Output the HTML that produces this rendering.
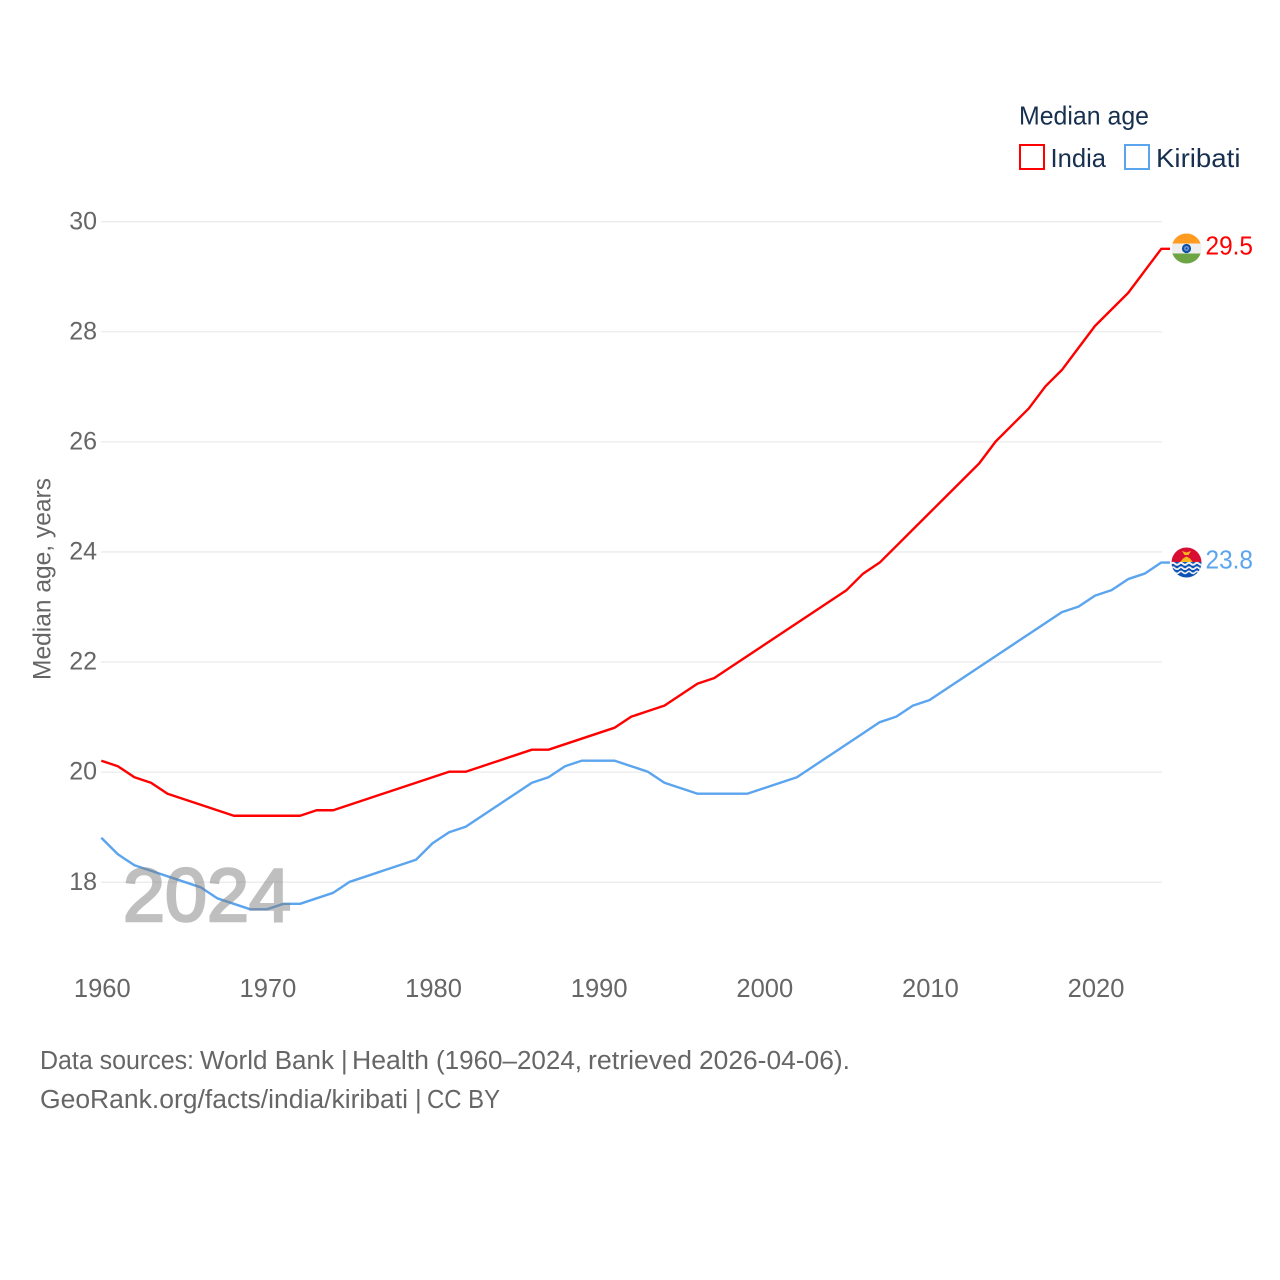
<!DOCTYPE html>
<html lang="en">
<head>
<meta charset="utf-8">
<title>Median age: India and Kiribati</title>
<style>
html,body{margin:0;padding:0;background:#fff;}
svg{display:block;}
text{font-family:"Liberation Sans",sans-serif;}
</style>
</head>
<body>
<svg id="chart" xmlns="http://www.w3.org/2000/svg" width="1280" height="1280" viewBox="0 0 1280 1280">
  <rect width="1280" height="1280" fill="#ffffff"/>
  <g id="grid"></g>
  <g id="yticks"></g>
  <g id="xticks"></g>
  <text transform="translate(50.5,680) rotate(-90)" font-size="25" fill="#666666" textLength="202" lengthAdjust="spacingAndGlyphs">Median age, years</text>
  <g id="series"></g>
  <text x="123" y="921" font-size="75" fill="#808080" stroke="#808080" stroke-width="2.6" opacity="0.5" textLength="168" lengthAdjust="spacingAndGlyphs">2024</text>

  <g>
    <text x="1019" y="124.5" font-size="26" fill="#18304f" textLength="130" lengthAdjust="spacingAndGlyphs">Median age</text>
    <g>
      <rect x="1020" y="145" width="24" height="24" fill="none" stroke="#ff0000" stroke-width="2"/>
      <text x="1050.5" y="167" font-size="26" fill="#18304f" textLength="55.5" lengthAdjust="spacingAndGlyphs">India</text>
    </g>
    <g>
      <rect x="1125" y="145" width="24" height="24" fill="none" stroke="#5ba4ee" stroke-width="2"/>
      <text x="1156" y="167" font-size="26" fill="#18304f" textLength="84.5" lengthAdjust="spacingAndGlyphs">Kiribati</text>
    </g>
  </g>

  <defs>
    <clipPath id="clip-in"><circle cx="1186.5" cy="248.5" r="15"/></clipPath>
    <clipPath id="clip-ki"><circle cx="1186.5" cy="562.5" r="15"/></clipPath>
  </defs>

  <g clip-path="url(#clip-in)">
    <rect x="1171" y="233" width="31" height="10.5" fill="#ff9c1f"/>
    <rect x="1171" y="243.5" width="31" height="10" fill="#eeeeee"/>
    <rect x="1171" y="253.5" width="31" height="11" fill="#6da544"/>
    <circle cx="1186.5" cy="248.5" r="4.6" fill="#0c4fa8"/>
    <circle cx="1186.5" cy="248.5" r="2.4" fill="#7f9fd0"/>
    <circle cx="1186.5" cy="248.5" r="1.1" fill="#0c4fa8"/>
  </g>

  <g clip-path="url(#clip-ki)">
    <rect x="1171" y="547" width="31" height="16" fill="#d80f32"/>
    <path d="M1179.5 563 L1183 558.5 L1186.5 556.5 L1190 558.5 L1193.5 563 Z" fill="#f7b51e"/>
    <path d="M1182 551 L1186.5 552.5 L1191 551 L1188.5 555 L1184.5 555 Z" fill="#f7b51e"/>
    <rect x="1171" y="562" width="31" height="16" fill="#0a52b5"/>
    <path d="M1171 563.8 q2 -2 4 0 t4 0 t4 0 t4 0 t4 0 t4 0 t4 0 t4 0" fill="none" stroke="#eeeeee" stroke-width="2"/>
    <path d="M1171 568.2 q2 -2 4 0 t4 0 t4 0 t4 0 t4 0 t4 0 t4 0 t4 0" fill="none" stroke="#eeeeee" stroke-width="1.8"/>
    <path d="M1171 572.4 q2 -2 4 0 t4 0 t4 0 t4 0 t4 0 t4 0 t4 0 t4 0" fill="none" stroke="#eeeeee" stroke-width="1.6"/>
  </g>

  <text x="1205.5" y="254.5" font-size="25.5" fill="#ff0000" textLength="47.5" lengthAdjust="spacingAndGlyphs">29.5</text>
  <text x="1205.5" y="568.5" font-size="25.5" fill="#5ba4ee" textLength="47.5" lengthAdjust="spacingAndGlyphs">23.8</text>

  <text y="1069" font-size="25.5" fill="#666666"><tspan x="40" textLength="154" lengthAdjust="spacingAndGlyphs">Data sources:</tspan> <tspan x="200" textLength="134" lengthAdjust="spacingAndGlyphs">World Bank</tspan> <tspan x="341">|</tspan> <tspan x="352" textLength="77" lengthAdjust="spacingAndGlyphs">Health</tspan> <tspan x="436" textLength="146" lengthAdjust="spacingAndGlyphs">(1960–2024,</tspan> <tspan x="588" textLength="104" lengthAdjust="spacingAndGlyphs">retrieved</tspan> <tspan x="699" textLength="151" lengthAdjust="spacingAndGlyphs">2026-04-06).</tspan></text>
  <text y="1108" font-size="25.5" fill="#666666"><tspan x="40" textLength="368" lengthAdjust="spacingAndGlyphs">GeoRank.org/facts/india/kiribati</tspan> <tspan x="415">|</tspan> <tspan x="427" textLength="73" lengthAdjust="spacingAndGlyphs">CC BY</tspan></text>
</svg>

<script>
const years = [1960,1961,1962,1963,1964,1965,1966,1967,1968,1969,1970,1971,1972,1973,1974,1975,1976,1977,1978,1979,1980,1981,1982,1983,1984,1985,1986,1987,1988,1989,1990,1991,1992,1993,1994,1995,1996,1997,1998,1999,2000,2001,2002,2003,2004,2005,2006,2007,2008,2009,2010,2011,2012,2013,2014,2015,2016,2017,2018,2019,2020,2021,2022,2023,2024];
const indiaValues = [20.2,20.1,19.9,19.8,19.6,19.5,19.4,19.3,19.2,19.2,19.2,19.2,19.2,19.3,19.3,19.4,19.5,19.6,19.7,19.8,19.9,20.0,20.0,20.1,20.2,20.3,20.4,20.4,20.5,20.6,20.7,20.8,21.0,21.1,21.2,21.4,21.6,21.7,21.9,22.1,22.3,22.5,22.7,22.9,23.1,23.3,23.6,23.8,24.1,24.4,24.7,25.0,25.3,25.6,26.0,26.3,26.6,27.0,27.3,27.7,28.1,28.4,28.7,29.1,29.5];
const kiribatiValues = [18.8,18.5,18.3,18.2,18.1,18.0,17.9,17.7,17.6,17.5,17.5,17.6,17.6,17.7,17.8,18.0,18.1,18.2,18.3,18.4,18.7,18.9,19.0,19.2,19.4,19.6,19.8,19.9,20.1,20.2,20.2,20.2,20.1,20.0,19.8,19.7,19.6,19.6,19.6,19.6,19.7,19.8,19.9,20.1,20.3,20.5,20.7,20.9,21.0,21.2,21.3,21.5,21.7,21.9,22.1,22.3,22.5,22.7,22.9,23.0,23.2,23.3,23.5,23.6,23.8];
const yTickValues = [18,20,22,24,26,28,30];
const xTickValues = [1960,1970,1980,1990,2000,2010,2020];

const NS = 'http://www.w3.org/2000/svg';
function xScale(year) { return 101.3 + (year - 1960) * (1161.3 - 101.3) / (2024 - 1960); }
function yScale(value) { return 881.8 - (value - 18) * (881.8 - 221.3) / (30 - 18); }

const gridGroup = document.getElementById('grid');
const yTickGroup = document.getElementById('yticks');
const xTickGroup = document.getElementById('xticks');
const seriesGroup = document.getElementById('series');

yTickValues.forEach(function (v) {
  const line = document.createElementNS(NS, 'line');
  
  
  line.setAttribute('x1', 101);
  line.setAttribute('x2', 1162);
  line.setAttribute('y1', yScale(v) + 0.4);
  line.setAttribute('y2', yScale(v) + 0.4);
  line.setAttribute('stroke', '#ebebeb');
  line.setAttribute('stroke-width', 1.3);
  gridGroup.appendChild(line);

  const label = document.createElementNS(NS, 'text');
  
  
  label.setAttribute('x', 97);
  label.setAttribute('y', yScale(v) + 8);
  label.setAttribute('text-anchor', 'end');
  label.setAttribute('font-size', 25);
  label.setAttribute('fill', '#666666');
  label.textContent = String(v);
  yTickGroup.appendChild(label);
});

xTickValues.forEach(function (year) {
  const label = document.createElementNS(NS, 'text');
  
  
  label.setAttribute('x', xScale(year) + 1);
  label.setAttribute('y', 997);
  label.setAttribute('text-anchor', 'middle');
  label.setAttribute('font-size', 25.5);
  label.setAttribute('fill', '#666666');
  label.textContent = String(year);
  xTickGroup.appendChild(label);
});

function drawSeries(values, color, name) {
  const pts = values.map(function (v, i) { return xScale(years[i]).toFixed(2) + ',' + yScale(v).toFixed(2); });
  const lastY = yScale(values[values.length - 1]).toFixed(2);
  pts.push('1170,' + lastY);
  const line = document.createElementNS(NS, 'polyline');
  
  
  line.setAttribute('points', pts.join(' '));
  line.setAttribute('fill', 'none');
  line.setAttribute('stroke', color);
  line.setAttribute('stroke-width', 2.4);
  line.setAttribute('stroke-linejoin', 'round');
  seriesGroup.appendChild(line);
}
drawSeries(indiaValues, '#ff0000', 'india');
drawSeries(kiribatiValues, '#5ba4ee', 'kiribati');
</script>
</body>
</html>
